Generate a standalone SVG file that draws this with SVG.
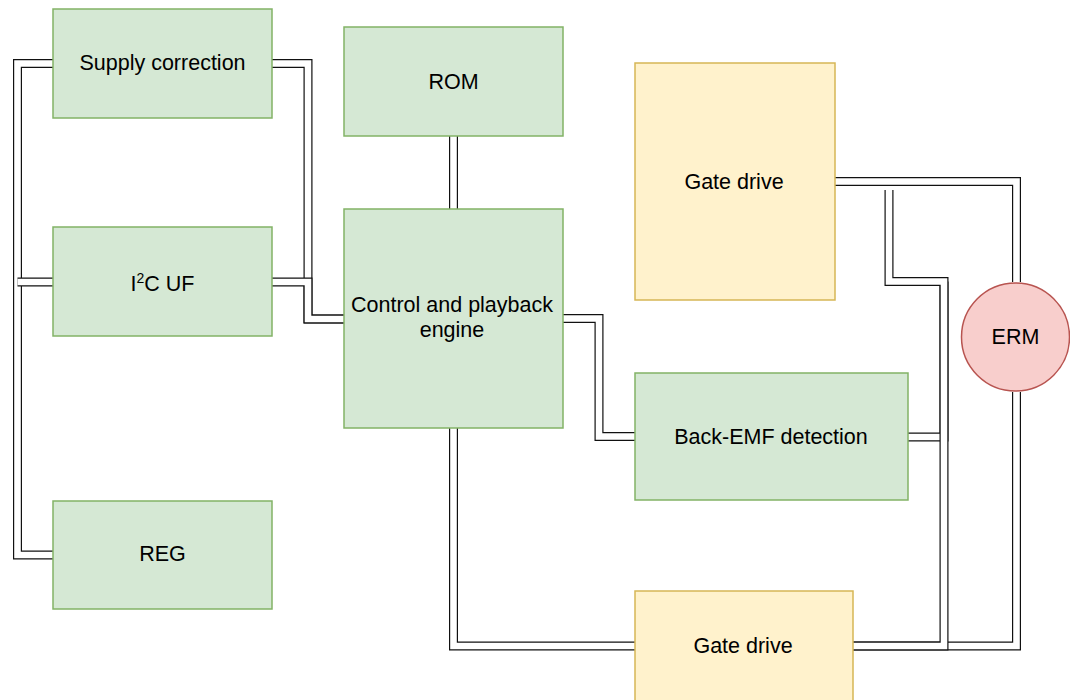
<svg xmlns="http://www.w3.org/2000/svg" xmlns:xlink="http://www.w3.org/1999/xlink" width="1070" height="700" viewBox="0 0 1070 700">
<style>
.o{fill:none;stroke:#111;stroke-width:9;stroke-linejoin:miter;stroke-linecap:butt}
.i{fill:none;stroke:#fff;stroke-width:6.6;stroke-linejoin:miter;stroke-linecap:butt}
.g{fill:#d5e8d4;stroke:#82b366;stroke-width:1.5}
.y{fill:#fff2cc;stroke:#d6b656;stroke-width:1.5}
.r{fill:#f8cecc;stroke:#b85450;stroke-width:1.5}
text{font-family:"Liberation Sans",Arial,Helvetica,sans-serif;font-size:21.5px;fill:#000;text-anchor:middle}
</style>
<defs>
<path id="c1" d="M53,63.5 H17.5 V555 H53"/>
<path id="c2" d="M53,282 H17.5"/>
<path id="c3" d="M272,63.5 H308 V319 H344"/>
<path id="c4" d="M272,282 H308 V319 H344"/>
<path id="c5" d="M453.5,136 V209"/>
<path id="c6" d="M563,318.5 H599 V436.5 H635"/>
<path id="c7" d="M453.5,428 V646 H635"/>
<path id="c8" d="M835,181.5 H1016.5 V282"/>
<path id="c9" d="M1016.5,392 V646 H853"/>
<path id="c10" d="M908,437 H944 V281.5"/>
<path id="c11" d="M889,190 V281.5 H944 V646 H853"/>
</defs>
<rect width="1070" height="700" fill="#fff"/>
<g id="connectors">
<use xlink:href="#c1" class="o"/><use xlink:href="#c1" class="i"/>
<use xlink:href="#c2" class="o"/><use xlink:href="#c2" class="i"/>
<use xlink:href="#c3" class="o"/><use xlink:href="#c3" class="i"/>
<use xlink:href="#c4" class="o"/><use xlink:href="#c4" class="i"/>
<use xlink:href="#c5" class="o"/><use xlink:href="#c5" class="i"/>
<use xlink:href="#c6" class="o"/><use xlink:href="#c6" class="i"/>
<use xlink:href="#c7" class="o"/><use xlink:href="#c7" class="i"/>
<use xlink:href="#c8" class="o"/><use xlink:href="#c8" class="i"/>
<use xlink:href="#c9" class="o"/><use xlink:href="#c9" class="i"/>
<use xlink:href="#c10" class="o"/><use xlink:href="#c10" class="i"/>
<use xlink:href="#c11" class="o"/><use xlink:href="#c11" class="i"/>
</g>
<g id="supply"><rect class="g" x="53" y="9" width="219" height="109"/><text x="162.5" y="70">Supply correction</text></g>
<g id="i2c"><rect class="g" x="53" y="227" width="219" height="109"/><text x="162.5" y="291">I<tspan font-size="14" dy="-8">2</tspan><tspan dy="8">C UF</tspan></text></g>
<g id="reg"><rect class="g" x="53" y="501" width="219" height="108"/><text x="162.5" y="561">REG</text></g>
<g id="rom"><rect class="g" x="344" y="27" width="219" height="109"/><text x="453.5" y="88.5">ROM</text></g>
<g id="control"><rect class="g" x="344" y="209" width="219" height="219"/><text x="452" y="311.5">Control and playback</text><text x="452" y="336.5">engine</text></g>
<g id="gate-top"><rect class="y" x="635" y="63" width="200" height="237"/><text x="734" y="188.5">Gate drive</text></g>
<g id="backemf"><rect class="g" x="635" y="373" width="273" height="127"/><text x="771" y="443.5">Back-EMF detection</text></g>
<g id="gate-bottom"><rect class="y" x="635" y="591" width="218" height="112"/><text x="743" y="653">Gate drive</text></g>
<g id="erm"><circle class="r" cx="1015.5" cy="337" r="54"/><text x="1015.5" y="344">ERM</text></g>
</svg>
